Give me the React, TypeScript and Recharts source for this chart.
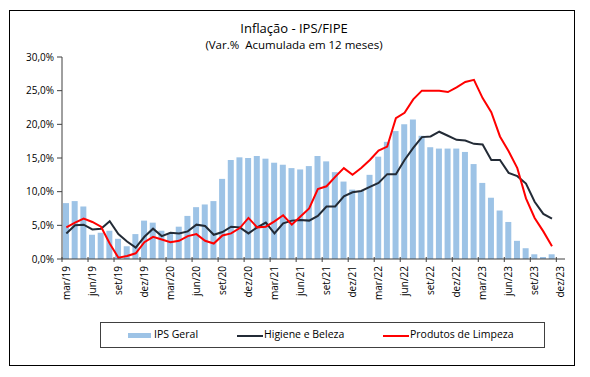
import React from "react";
import { Bar, ComposedChart, Line, XAxis, YAxis, Legend } from "recharts";

const monthNames = ["jan", "fev", "mar", "abr", "mai", "jun", "jul", "ago", "set", "out", "nov", "dez"];
const years = [19, 20, 21, 22, 23];
const months: string[] = [];
years.forEach((y) => monthNames.forEach((m, i) => {
  if (y === 19 && i < 2) return;
  months.push(`${m}/${y}`);
}));

// IPS Geral (barras), última categoria sem dado
const ipsGeral = [
  8.3, 8.6, 7.8, 3.6, 3.9, 4.2, 3.0, 1.9, 3.7, 5.7,
  5.4, 4.2, 3.8, 4.8, 6.4, 7.7, 8.1, 8.6, 11.9, 14.7,
  15.1, 15.0, 15.3, 14.9, 14.3, 14.0, 13.5, 13.3, 13.8, 15.3,
  14.5, 12.9, 11.5, 10.3, 10.1, 12.5, 15.2, 17.4, 19.0, 20.0,
  20.7, 18.3, 16.6, 16.4, 16.4, 16.4, 15.9, 14.1, 11.3, 9.1,
  7.2, 5.5, 2.7, 1.6, 0.7, 0.3, 0.7, null,
];

const higieneBeleza = [
  3.8, 5.0, 5.1, 4.4, 4.5, 5.6, 3.7, 2.6, 1.7, 3.3,
  4.5, 3.4, 3.9, 3.8, 4.1, 5.1, 4.9, 3.6, 4.0, 4.8,
  4.7, 3.8, 4.7, 5.4, 3.8, 5.3, 5.7, 5.8, 5.7, 6.4,
  7.8, 7.8, 9.3, 9.9, 10.1, 10.7, 11.3, 12.6, 12.6, 14.7,
  16.5, 18.1, 18.2, 18.9, 18.3, 17.7, 17.6, 17.1, 17.0, 14.7,
  14.7, 12.8, 12.3, 11.2, 8.5, 6.7, 6.0, null,
];

const produtosLimpeza = [
  4.7, 5.4, 6.0, 5.5, 4.8, 2.3, 0.2, 0.45, 0.85, 2.5,
  3.3, 2.9, 2.5, 2.7, 3.4, 3.7, 2.7, 2.3, 3.5, 3.8,
  4.6, 6.1, 4.7, 4.8, 5.6, 6.5, 5.1, 6.3, 7.5, 10.4,
  10.8, 12.2, 13.5, 12.5, 13.5, 14.7, 16.1, 16.7, 20.9, 21.7,
  23.7, 25.0, 25.0, 25.0, 24.8, 25.5, 26.3, 26.6, 23.9, 21.8,
  18.2, 16.0, 13.5, 9.0, 6.1, 4.1, 1.9, null,
];

const yTicks = [0, 5, 10, 15, 20, 25, 30];

const data = months.map((m, i) => ({
  mes: m,
  ips: ipsGeral[i],
  hig: higieneBeleza[i],
  limp: produtosLimpeza[i],
}));

const FONT = "'Open Sans', 'Liberation Sans', sans-serif";
const AXIS = "#404040";
const BAR = "#9DC3E6";
const DARK = "#232b36";
const RED = "#ff0000";
const HALF_BAND = (565 - 62) / 58 / 2;

const XTick = (props: any) => {
  const { x, y, payload } = props;
  return (
    <g>
      <line x1={x - HALF_BAND} x2={x - HALF_BAND} y1={y - 8} y2={y - 3} stroke={AXIS} strokeWidth={1} />
      <text
        x={0}
        y={0}
        transform={`translate(${x + 3.5},${y + 1}) rotate(-90)`}
        textAnchor="end"
        fontSize={10}
        fontFamily={FONT}
        fill="#000"
      >
        {payload.value}
      </text>
    </g>
  );
};

const LegendBox = () => (
  <div
    style={{
      position: "relative",
      width: 445,
      height: 26,
      border: `1px solid ${AXIS}`,
      fontFamily: FONT,
      fontSize: 10.5,
      color: "#000",
      boxSizing: "border-box",
    }}
  >
    <span style={{ position: "absolute", left: 27, top: 10, width: 23, height: 5, background: BAR }} />
    <span style={{ position: "absolute", left: 53, top: 4 }}>IPS Geral</span>
    <span style={{ position: "absolute", left: 136, top: 12, width: 26, height: 2, background: DARK }} />
    <span style={{ position: "absolute", left: 163, top: 4 }}>Higiene e Beleza</span>
    <span style={{ position: "absolute", left: 282, top: 12, width: 26, height: 2, background: RED }} />
    <span style={{ position: "absolute", left: 309, top: 4 }}>Produtos de Limpeza</span>
  </div>
);

export default function App() {
  return (
    <div style={{ position: "absolute", left: 0, top: 0, width: 590, height: 377, background: "#fff" }}>
      <div
        style={{
          position: "absolute",
          left: 9,
          top: 10,
          width: 566,
          height: 356,
          border: "1px solid #000",
          boxSizing: "border-box",
        }}
      />
      <div
        style={{
          position: "absolute",
          left: 0,
          width: 588,
          top: 19,
          textAlign: "center",
          fontFamily: FONT,
          fontSize: 13,
          color: "#000",
        }}
      >
        Inflação - IPS/FIPE
      </div>
      <div
        style={{
          position: "absolute",
          left: 0,
          width: 588,
          top: 37,
          textAlign: "center",
          fontFamily: FONT,
          fontSize: 11.5,
          color: "#000",
          whiteSpace: "pre",
        }}
      >
        (Var.%  Acumulada em 12 meses)
      </div>
      <ComposedChart
        width={590}
        height={377}
        data={data}
        margin={{ top: 57, right: 25, bottom: 0, left: 0 }}
        barCategoryGap={0}
        style={{ position: "absolute", left: 0, top: 0 }}
      >
        <XAxis
          dataKey="mes"
          interval={2}
          height={92}
          axisLine={{ stroke: AXIS }}
          tickLine={false}
          tick={<XTick />}
          tickMargin={0}
        />
        <YAxis
          domain={[0, 30]}
          ticks={yTicks}
          width={62}
          tickSize={5}
          tickMargin={3}
          axisLine={{ stroke: AXIS }}
          tickLine={{ stroke: AXIS }}
          tickFormatter={(v: number) => `${v.toFixed(1).replace(".", ",")}%`}
          tick={{ fontSize: 10, fontFamily: FONT, fill: "#000" }}
        />
        <Legend
          verticalAlign="bottom"
          content={() => <LegendBox />}
          wrapperStyle={{ position: "absolute", left: 100, top: 322, width: 445, bottom: "auto" }}
        />
        <Bar dataKey="ips" name="IPS Geral" fill={BAR} barSize={6} isAnimationActive={false} />
        <Line
          dataKey="hig"
          name="Higiene e Beleza"
          stroke={DARK}
          strokeWidth={2}
          dot={false}
          type="linear"
          isAnimationActive={false}
        />
        <Line
          dataKey="limp"
          name="Produtos de Limpeza"
          stroke={RED}
          strokeWidth={2}
          dot={false}
          type="linear"
          isAnimationActive={false}
        />
      </ComposedChart>
    </div>
  );
}
